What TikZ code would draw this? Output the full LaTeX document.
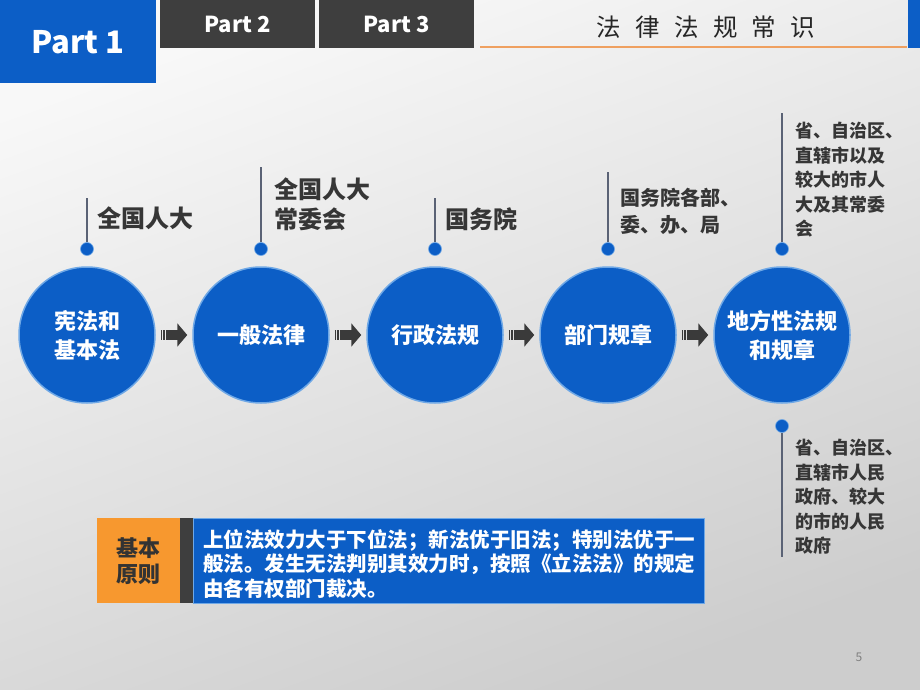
\documentclass[tikz,border=0pt]{standalone}
\usepackage{fontspec}
\setmainfont{Noto Sans CJK SC}
\newfontfamily\widefont[LetterSpace=58]{Noto Sans CJK SC}
\usetikzlibrary{arrows.meta}
\definecolor{lawblue}{HTML}{0C5EC6}
\definecolor{edgeblue}{HTML}{6FA8E6}
\definecolor{tabgray}{HTML}{3E3E3E}
\definecolor{labelgray}{HTML}{363636}
\definecolor{stemgray}{HTML}{5A6275}
\definecolor{arrowgray}{HTML}{3A3A3A}
\definecolor{lineorange}{HTML}{EFA060}
\definecolor{boxorange}{HTML}{F7982F}
\definecolor{bgtop}{HTML}{F8F8F8}
\definecolor{bgbot}{HTML}{CDCDCD}

\begin{document}
\begin{tikzpicture}[x=1pt,y=-1pt,
  law/.style={circle,fill=lawblue,draw=edgeblue,line width=1.5pt,minimum size=136pt,inner sep=0pt,
    text=white,align=center,font=\bfseries\fontsize{22}{29}\selectfont},
  dot/.style={circle,fill=lawblue,draw=edgeblue,line width=0.6pt,minimum size=13pt,inner sep=0pt},
  stem/.style={draw=stemgray,line width=1.5pt},
  flow/.style={draw=arrowgray,line width=10pt,shorten <=5pt,shorten >=5pt,
    -{Triangle[length=10pt,width=23pt]},dash pattern=on 1.5pt off 1pt on 1.5pt off 1pt on 80pt},
  lbl/.style={anchor=west,text=labelgray,align=left,inner sep=0pt,font=\bfseries\fontsize{24}{30}\selectfont},
  small lbl/.style={lbl,font=\bfseries\fontsize{18}{24.5}\selectfont},
  tab/.style={anchor=north west,inner sep=0pt,fill=tabgray,text=white,font=\bfseries\fontsize{22}{22}\selectfont}
]
\useasboundingbox (0,0) rectangle (920,690);
\shade[top color=bgtop,bottom color=bgbot,shading angle=20] (0,0) rectangle (920,690);

% header
\node[tab,fill=lawblue,minimum width=156pt,minimum height=83pt,font=\bfseries\fontsize{31}{31}\selectfont] (part1) at (0,0) {Part 1};
\node[tab,minimum width=155pt,minimum height=48pt] (part2) at (160,0) {Part 2};
\node[tab,minimum width=155pt,minimum height=48pt] (part3) at (319,0) {Part 3};
\draw[lineorange,line width=2pt] (480,47) -- (907,47);
\fill[lawblue] (908,0) rectangle (920,48);
\node[text=black!85,font=\fontsize{24.5}{24.5}\selectfont] (title) at (706,27) {\widefont 法律法规常识};

% circles, dots and stems
\foreach \i/\x/\top/\txt in {1/87/198/{宪法和\\基本法},2/261/167/一般法律,3/435/198/行政法规,
    4/608/172/部门规章,5/782/113/{地方性法规\\和规章}}{
  \node[law] (c\i) at (\x,335) {\txt};
  \node[dot] (d\i) at (\x,249) {};
  \coordinate (t\i) at (\x,\top);
  \draw[stem] (d\i.north) -- (t\i);
}
\foreach \a/\b in {1/2,2/3,3/4,4/5}
  \draw[flow] (c\a) -- (c\b);

\node[dot] (d6) at (782,426) {};
\coordinate (t6) at (782,557);
\draw[stem] (d6.south) -- (t6);

% labels
\node[lbl] (l1) at (97,218) {全国人大};
\node[lbl] (l2) at (274,204) {全国人大\\常委会};
\node[lbl] (l3) at (445,219) {国务院};
\node[lbl,font=\bfseries\fontsize{20}{27}\selectfont] (l4) at (620,211) {国务院各部、\\委、办、局};
\node[small lbl] (l5) at (795,180) {省、自治区、\\直辖市以及\\较大的市人\\大及其常委\\会};
\node[small lbl] (l6) at (795,497) {省、自治区、\\直辖市人民\\政府、较大\\的市的人民\\政府};

% basic principle
\node[anchor=north west,fill=boxorange,minimum width=83pt,minimum height=85pt,inner sep=0pt,align=center,
  text=black!80,font=\bfseries\fontsize{22}{26}\selectfont] (basis) at (97,518) {基本\\原则};
\fill[tabgray] (180,518) rectangle (193,603);
\node[anchor=north west,fill=lawblue,draw=edgeblue,line width=0.6pt,minimum width=511pt,minimum height=85pt,
  inner sep=0pt] (rule) at (193,518) {};
\node[anchor=west,text=white,align=left,inner sep=0pt,font=\bfseries\fontsize{20.5}{24.5}\selectfont] (ruletext) at (203,564)
  {上位法效力大于下位法；新法优于旧法；特别法优于一\\般法。发生无法判别其效力时，按照《立法法》的规定\\由各有权部门裁决。};

\node[text=gray,font=\fontsize{12}{12}\selectfont] (page) at (859,657) {5};
\end{tikzpicture}
\end{document}
